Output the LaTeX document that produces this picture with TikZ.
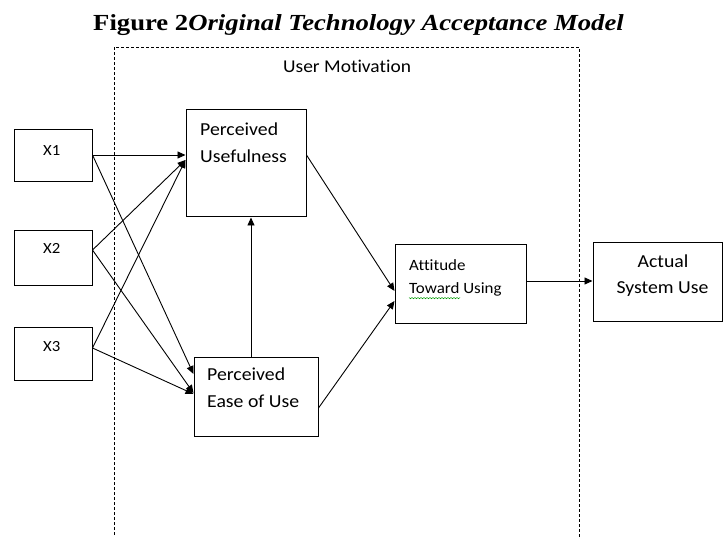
\documentclass[tikz,border=0pt]{standalone}
\usepackage{fontspec}
\setmainfont{Liberation Serif}
\newfontfamily\calfont[FakeStretch=1.08,Ligatures=NoCommon]{Carlito}
\newfontfamily\titlefont[FakeStretch=1.16]{Liberation Serif}
\usetikzlibrary{arrows.meta}
\tikzset{
  box/.style={draw=black, line width=1pt, inner sep=0pt, fill=none},
  conn/.style={draw=black, line width=0.9pt, -{Triangle[length=8pt,width=7pt]}},
  lbl/.style={anchor=base west, inner sep=0pt, font=\calfont\fontsize{18.3}{20}\selectfont},
  xlbl/.style={anchor=base west, inner sep=0pt, font=\calfont\fontsize{15.5}{18}\selectfont},
  alb/.style={anchor=base west, inner sep=0pt, font=\calfont\fontsize{15.7}{18}\selectfont},
  region/.style={draw=black, line width=0.8pt, dash pattern=on 3pt off 2pt}
}
\begin{document}
\begin{tikzpicture}[x=1pt,y=-1pt]
\useasboundingbox (0,0) rectangle (723,537);
% title
\node[anchor=base west, inner sep=0pt, font=\titlefont\fontsize{23}{26}\selectfont\bfseries] (title) at (93,31) {Figure 2\textit{Original Technology Acceptance Model}};
% dashed region
\coordinate (rbl) at (114,540);
\coordinate (rtl) at (114,47);
\coordinate (rtr) at (579,47);
\coordinate (rbr) at (579,540);
\draw[region] (rbl) -- (rtl) -- (rtr) -- (rbr);
\node[anchor=base west, inner sep=0pt, font=\calfont\fontsize{18}{20}\selectfont] (um) at (283,73) {User Motivation};
% boxes
\node[box, minimum width=78pt, minimum height=52pt] (x1) at (53,156) {};
\node[box, minimum width=78pt, minimum height=55pt] (x2) at (53,258.5) {};
\node[box, minimum width=78pt, minimum height=52pt] (x3) at (53,354) {};
\node[box, minimum width=120pt, minimum height=107pt] (pu) at (246,163.5) {};
\node[box, minimum width=124pt, minimum height=79pt] (peu) at (256,396.5) {};
\node[box, minimum width=131pt, minimum height=79pt] (atu) at (460.5,284.5) {};
\node[box, minimum width=129pt, minimum height=79pt] (asu) at (657.5,282.5) {};
% labels
\node[xlbl] (tx1) at (43,156) {X1};
\node[xlbl] (tx2) at (43,254) {X2};
\node[xlbl] (tx3) at (43,352) {X3};
\node[lbl] (tpu1) at (200,136) {Perceived};
\node[lbl] (tpu2) at (200,163) {Usefulness};
\node[lbl] (tpe1) at (207,381) {Perceived};
\node[lbl] (tpe2) at (207,407) {Ease of Use};
\node[alb] (ta1) at (409,271) {Attitude};
\node[alb] (ta2) at (409,294) {Toward Using};
\node[lbl, anchor=base] (ts1) at (663,268) {Actual};
\node[lbl, anchor=base] (ts2) at (662.5,294) {System Use};
% spell-check squiggle
\draw[green!60!black, line width=0.5pt] (409,297.5) \foreach \i in {0,...,16} { -- ++(1.5,1.2) -- ++(1.5,-1.2)};
% connectors
\draw[conn] (x1.east |- 0,155) -- (pu.west |- 0,155);
\draw[conn] (x2.east |- 0,250) -- (pu.west |- 0,160);
\draw[conn] (x3.east |- 0,348) -- (pu.west |- 0,160);
\draw[conn] (x1.east |- 0,155) -- (peu.west |- 0,374);
\draw[conn] (x2.east |- 0,250) -- (peu.west |- 0,393);
\draw[conn] (x3.east |- 0,348) -- (peu.west |- 0,394);
\draw[conn] (peu.north -| 251,0) -- (pu.south -| 251,0);
\draw[conn] (pu.east |- 0,155) -- (atu.west |- 0,291);
\draw[conn] (peu.east |- 0,408) -- (atu.west |- 0,301);
\draw[conn] (atu.east |- 0,281) -- (asu.west |- 0,281);
\end{tikzpicture}
\end{document}
